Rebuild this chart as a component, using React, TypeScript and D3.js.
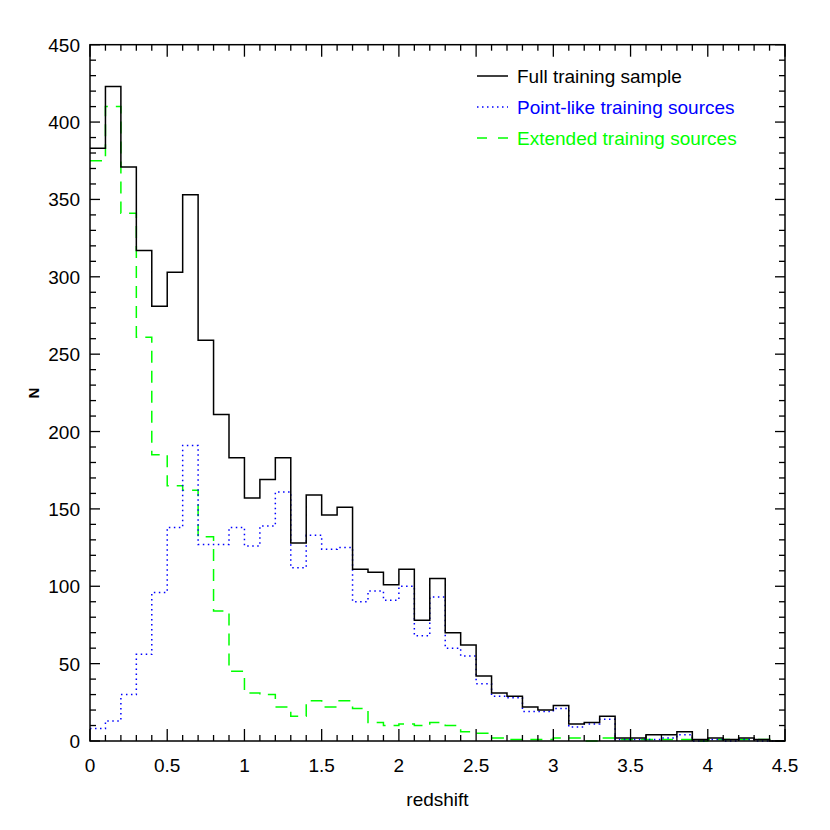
import React from "react";
import * as d3 from "d3";

const binStart = 0;
const binWidth = 0.1;
const fullSample = [383,423,371,317,281,303,353,259,211,183,157,169,183,128,159,146,151,111,109,101,111,78,105,70,62,42,31,29,22,20,23,11,12,16,2,2,4,4,6,1,2,1,2,1,0];
const pointLike = [8,13,30,56,96,138,191,127,127,138,126,139,161,112,133,124,125,90,97,91,100,68,93,60,55,37,29,28,19,19,21,9,11,14,1,1,1,2,4,0,1,0,1,0,0];
const extended = [375,410,341,261,185,165,162,132,84,45,31,30,22,16,26,22,26,21,12,10,11,10,12,10,6,5,2,1,1,1,2,2,0,2,1,1,1,1,1,0,1,1,1,1,0];

const xTickLabels = ["0","0.5","1","1.5","2","2.5","3","3.5","4","4.5"];
const yTickLabels = ["0","50","100","150","200","250","300","350","400","450"];
const seriesNames = ["Full training sample","Point-like training sources","Extended training sources"];
const seriesColors = ["#000000","#0000ff","#00ff00"];
const seriesDash = ["none","1.5,3.5","12,8"];

const W = 830, H = 830;
const L = 90, R = 785, T = 44.7, B = 741;
const FONT = "'Liberation Sans', Arial, Helvetica, sans-serif";
const FS = 19;

export default function App() {
  const x = d3.scaleLinear().domain([0, 4.5]).range([L, R]);
  const y = d3.scaleLinear().domain([0, 450]).range([B, T]);
  const line = d3.line<[number, number]>()
    .x(d => x(d[0]))
    .y(d => y(d[1]))
    .curve(d3.curveStepAfter);
  const toPts = (vals: number[]): [number, number][] => {
    const pts: [number, number][] = vals.map((v, i) => [binStart + i * binWidth, v]);
    pts.push([binStart + vals.length * binWidth, vals[vals.length - 1]]);
    return pts;
  };
  const series = [fullSample, pointLike, extended];
  const xMinor = d3.range(0, 46).map(i => i / 10);
  const yMinor = d3.range(0, 46).map(i => i * 10);
  const xMajor = xTickLabels.map(Number);
  const yMajor = yTickLabels.map(Number);

  return (
    <svg width={W} height={H} style={{ position: "absolute", left: 0, top: 0, background: "#fff" }} fontFamily={FONT}>
      <rect x={0} y={0} width={W} height={H} fill="#fff" />
      {[...series].reverse().map((s, ri) => {
        const i = series.length - 1 - ri;
        return (
          <path key={i} d={line(toPts(s)) || ""} fill="none" stroke={seriesColors[i]}
            strokeWidth={1.5} strokeDasharray={seriesDash[i]} />
        );
      })}
      <rect x={L} y={T} width={R - L} height={B - T} fill="none" stroke="#000" strokeWidth={1.5} />
      {xMinor.map((v, i) => {
        const major = xMajor.some(m => Math.abs(m - v) < 1e-6);
        const len = major ? 12 : 6;
        return (
          <g key={"xt" + i} stroke="#000" strokeWidth={1.3}>
            <line x1={x(v)} x2={x(v)} y1={B} y2={B - len} />
            <line x1={x(v)} x2={x(v)} y1={T} y2={T + len} />
          </g>
        );
      })}
      {yMinor.map((v, i) => {
        const major = v % 50 === 0;
        const len = major ? 10 : 6;
        return (
          <g key={"yt" + i} stroke="#000" strokeWidth={1.3}>
            <line x1={L} x2={L + len} y1={y(v)} y2={y(v)} />
            <line x1={R} x2={R - len} y1={y(v)} y2={y(v)} />
          </g>
        );
      })}
      {xTickLabels.map((t, i) => (
        <text key={"xl" + i} x={x(xMajor[i])} y={772} textAnchor="middle" fontSize={FS} fill="#000">{t}</text>
      ))}
      {yTickLabels.map((t, i) => (
        <text key={"yl" + i} x={80} y={y(yMajor[i]) + 7} textAnchor="end" fontSize={FS} fill="#000">{t}</text>
      ))}
      <text x={(L + R) / 2} y={806} textAnchor="middle" fontSize={FS} fill="#000">redshift</text>
      <text transform={`translate(39,393) rotate(-90)`} textAnchor="middle" fontSize={15} fontWeight="bold" fill="#000">N</text>
      {seriesNames.map((n, i) => {
        const ly = 76 + i * 31;
        return (
          <g key={"lg" + i}>
            <line x1={477} x2={508} y1={ly} y2={ly} stroke={seriesColors[i]} strokeWidth={1.5}
              strokeDasharray={i === 2 ? "10,11" : seriesDash[i]} />
            <text x={517} y={ly + 7} fontSize={FS} fill={seriesColors[i]}>{n}</text>
          </g>
        );
      })}
    </svg>
  );
}
